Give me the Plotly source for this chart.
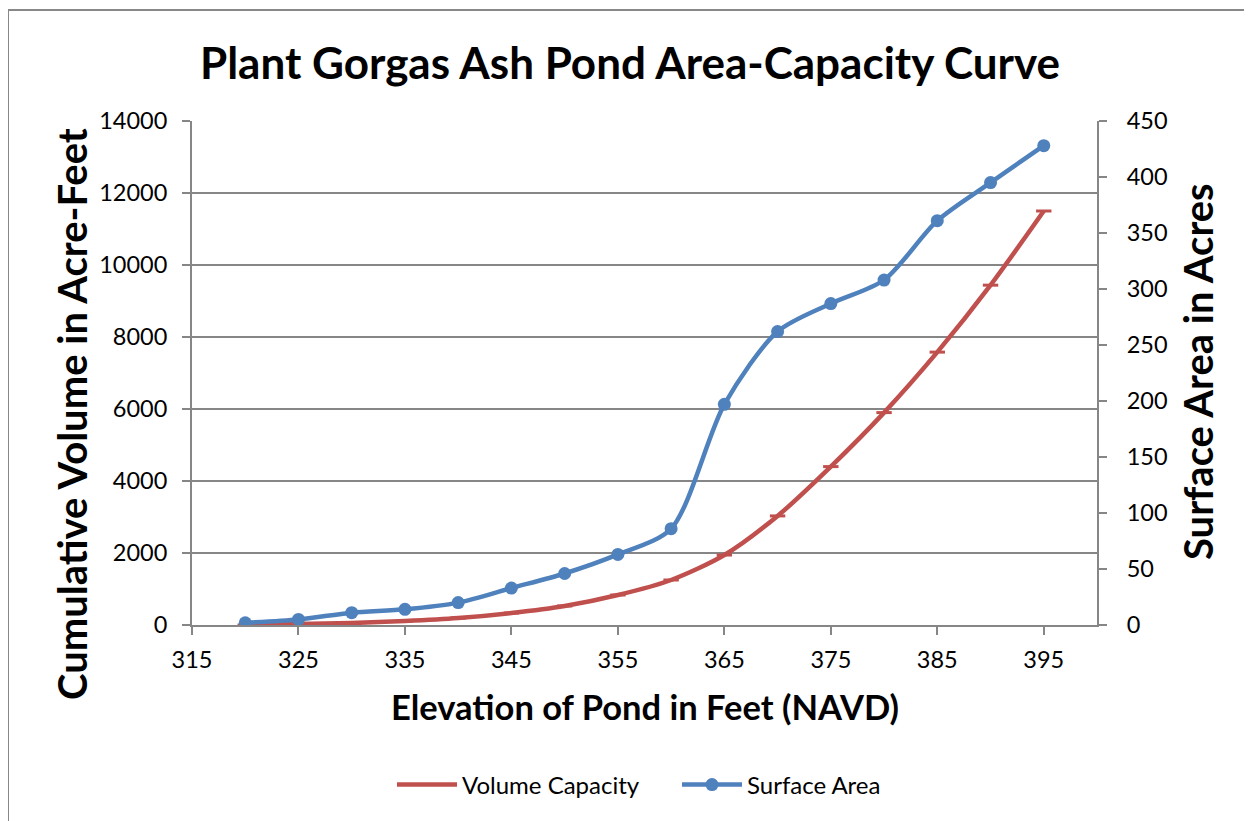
import plotly.graph_objects as go

elevation = [320, 325, 330, 335, 340, 345, 350, 355, 360, 365, 370, 375, 380, 385, 390, 395]
volume_acft = [0, 28, 55, 111, 194, 333, 528, 833, 1250, 1944, 3030, 4400, 5900, 7580, 9440, 11500]
surface_acres = [2, 5, 11, 14, 20, 33, 46, 63, 86, 197, 262, 287, 308, 361, 395, 428]

RED = "#C0504D"
BLUE = "#4F81BD"
GRID = "#868686"
FONT = "Lato"

fig = go.Figure()
fig.add_trace(go.Scatter(
    x=elevation, y=volume_acft, name="Volume Capacity", mode="lines",
    line=dict(color=RED, width=4.5, shape="spline", smoothing=0.8), yaxis="y"))
fig.add_trace(go.Scatter(
    x=elevation, y=volume_acft, name="Volume Capacity", mode="markers", showlegend=False,
    marker=dict(symbol="line-ew", size=11, line=dict(color=RED, width=3)), yaxis="y"))
fig.add_trace(go.Scatter(
    x=elevation, y=surface_acres, name="Surface Area", mode="lines+markers",
    line=dict(color=BLUE, width=4.5, shape="spline", smoothing=0.8),
    marker=dict(symbol="circle", size=13, color=BLUE), yaxis="y2"))

W, H = 1252, 821
OX, OY = 8, 8  # page body offset
L, R, T, B = 192 - OX, 1097 - OX, 121 - OY, 625 - OY
pw, ph = R - L, B - T

def px(x):
    return (x - OX - L) / pw

def py(y):
    return (B - (y - OY)) / ph

axis_common = dict(showline=True, linecolor=GRID, linewidth=2, ticks="outside", ticklen=8,
                   tickcolor=GRID, tickwidth=2, zeroline=False, tickfont=dict(size=23.5))

fig.update_layout(
    width=W, height=H,
    margin=dict(l=L, r=W - R, t=T, b=H - B, pad=0, autoexpand=False),
    paper_bgcolor="white", plot_bgcolor="white",
    font=dict(family=FONT, size=23, color="black"),
    showlegend=True,
    legend=dict(orientation="h", x=px(392), y=py(785), xanchor="left", yanchor="middle",
                font=dict(size=24), itemwidth=60, entrywidth=210, entrywidthmode="pixels",
                traceorder="normal"),
    xaxis=dict(range=[315, 400], tickvals=[315, 325, 335, 345, 355, 365, 375, 385, 395],
               showgrid=False, ticklabelstandoff=5, **axis_common),
    yaxis=dict(range=[0, 14000], dtick=2000, tickformat="d", showgrid=True, gridcolor=GRID,
               gridwidth=2, ticklabelstandoff=10, **axis_common),
    yaxis2=dict(range=[0, 450], dtick=50, tickformat="d", overlaying="y", side="right",
                showgrid=False, ticklabelstandoff=15, **axis_common),
    shapes=[dict(type="rect", xref="paper", yref="paper",
                 x0=px(8), x1=px(1270), y0=py(840), y1=py(10),
                 line=dict(color="#888888", width=2), fillcolor="rgba(0,0,0,0)", layer="below")],
    annotations=[
        dict(text="<b>Plant Gorgas Ash Pond Area-Capacity Curve</b>", xref="paper", yref="paper",
             x=px(630), y=py(62), xanchor="center", yanchor="middle", showarrow=False,
             font=dict(size=44, family=FONT)),
        dict(text="<b>Cumulative Volume in Acre-Feet</b>", xref="paper", yref="paper",
             x=px(72), y=py(414), xanchor="center", yanchor="middle", showarrow=False,
             textangle=-90, font=dict(size=40, family=FONT)),
        dict(text="<b>Surface Area in Acres</b>", xref="paper", yref="paper",
             x=px(1198), y=py(372), xanchor="center", yanchor="middle", showarrow=False,
             textangle=-90, font=dict(size=40, family=FONT)),
        dict(text="<b>Elevation of Pond in Feet (NAVD)</b>", xref="paper", yref="paper",
             x=px(645), y=py(706), xanchor="center", yanchor="middle", showarrow=False,
             font=dict(size=34.5, family=FONT)),
    ],
)

fig.write_html("out.html")
